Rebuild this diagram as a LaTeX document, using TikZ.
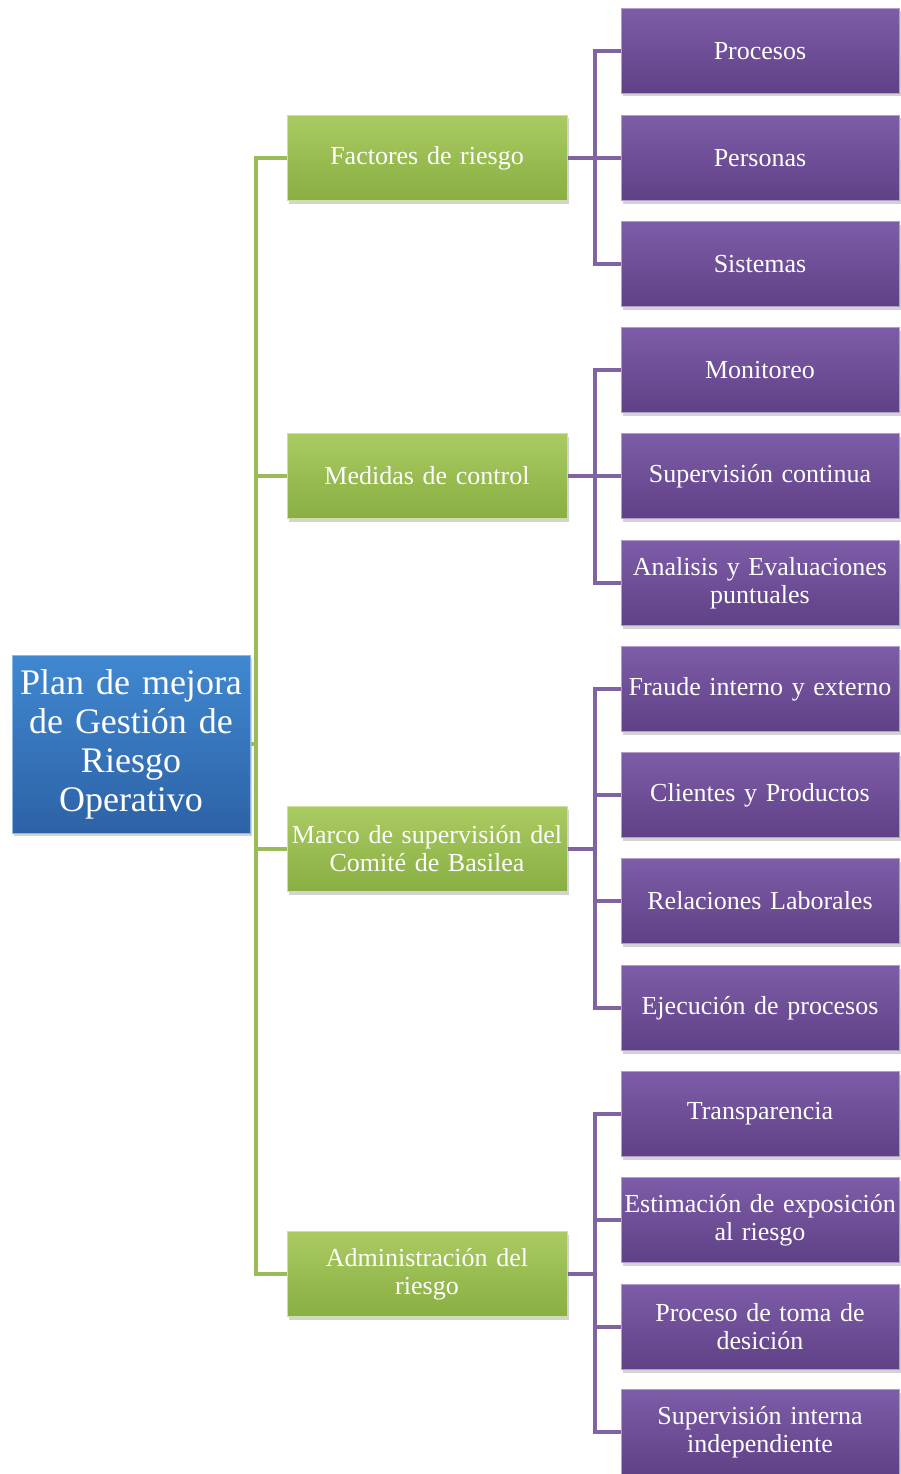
\documentclass[tikz,border=0pt]{standalone}
\usepackage{fontspec}
\setmainfont{Liberation Serif}
\usetikzlibrary{shadows}
\definecolor{gtop}{HTML}{AACB62}
\definecolor{gbot}{HTML}{89AE42}
\definecolor{ptop}{HTML}{7E5CA8}
\definecolor{pbot}{HTML}{5F4186}
\definecolor{btop}{HTML}{4088D0}
\definecolor{bbot}{HTML}{2D62A6}
\definecolor{gline}{HTML}{9BBB59}
\definecolor{pline}{HTML}{8064A2}
\tikzset{
  boxbase/.style={rectangle, inner sep=0pt, align=center, text=white,
    drop shadow={shadow xshift=2pt, shadow yshift=-3pt, opacity=0.35}},
  rootbox/.style={boxbase, minimum width=238pt, minimum height=178pt, text width=236pt,
    top color=btop, bottom color=bbot, draw=btop!60!white, line width=1pt,
    font=\fontsize{36}{39}\selectfont},
  greenbox/.style={boxbase, minimum width=280pt, minimum height=85pt, text width=278pt,
    top color=gtop, bottom color=gbot, draw=gtop!60!white, line width=1pt,
    font=\fontsize{26}{28}\selectfont},
  purplebox/.style={boxbase, minimum width=278pt, minimum height=85pt, text width=277pt,
    top color=ptop, bottom color=pbot, draw=ptop!60!white, line width=1pt,
    font=\fontsize{26}{28}\selectfont},
  glink/.style={draw=gline, line width=4pt},
  plink/.style={draw=pline, line width=4pt},
}
\begin{document}
\begin{tikzpicture}[x=1pt,y=-1pt]
\useasboundingbox (0,0) rectangle (900,1474);
\node[rootbox] (root) at (131,744) {Plan de mejora\\de Gestión de\\Riesgo\\Operativo};
\node[greenbox] (g1) at (427,158) {Factores de riesgo};
\node[greenbox] (g2) at (427,476) {Medidas de control};
\node[greenbox] (g3) at (427,849) {Marco de supervisión del\\Comité de Basilea};
\node[greenbox] (g4) at (427,1274) {Administración del\\riesgo};

\node[purplebox] (p1) at (760,51) {Procesos};
\node[purplebox] (p2) at (760,158) {Personas};
\node[purplebox] (p3) at (760,264) {Sistemas};
\node[purplebox] (p4) at (760,370) {Monitoreo};
\node[purplebox] (p5) at (760,476) {Supervisión continua};
\node[purplebox] (p6) at (760,583) {Analisis y Evaluaciones\\puntuales};
\node[purplebox] (p7) at (760,689) {Fraude interno y externo};
\node[purplebox] (p8) at (760,795) {Clientes y Productos};
\node[purplebox] (p9) at (760,901) {Relaciones Laborales};
\node[purplebox] (p10) at (760,1008) {Ejecución de procesos};
\node[purplebox] (p11) at (760,1114) {Transparencia};
\node[purplebox] (p12) at (760,1220) {Estimación de exposición\\al riesgo};
\node[purplebox] (p13) at (760,1327) {Proceso de toma de\\desición};
\node[purplebox] (p14) at (760,1432) {Supervisión interna\\independiente};

\foreach \g in {g1,g2,g3,g4}
  \draw[glink] (root.east) -- ++(5,0) |- (\g.west);
\foreach \p in {p1,p2,p3}
  \draw[plink] (g1.east) -- ++(27,0) |- (\p.west);
\foreach \p in {p4,p5,p6}
  \draw[plink] (g2.east) -- ++(27,0) |- (\p.west);
\foreach \p in {p7,p8,p9,p10}
  \draw[plink] (g3.east) -- ++(27,0) |- (\p.west);
\foreach \p in {p11,p12,p13,p14}
  \draw[plink] (g4.east) -- ++(27,0) |- (\p.west);
\end{tikzpicture}
\end{document}
